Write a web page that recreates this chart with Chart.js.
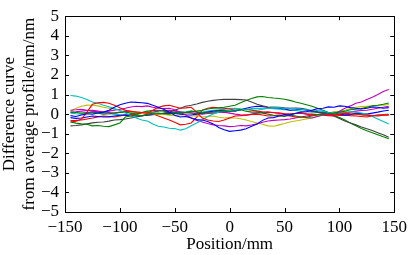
<!DOCTYPE html>
<html>
<head>
<meta charset="utf-8">
<script src="https://cdn.jsdelivr.net/npm/chart.js@4.4.1/dist/chart.umd.min.js"></script>
<style>
  html, body { margin: 0; padding: 0; background: #fff; }
  canvas { display: block; }
</style>
</head>
<body>
<canvas id="chart" width="412" height="255"></canvas>
<script>
// positions along the profile (mm)
const positions = [-145, -140, -135, -130, -125, -120, -115, -110, -105, -100, -95, -90, -85, -80, -75,
                   -70, -65, -60, -55, -50, -45, -40, -35, -30, -25, -20, -15, -10, -5, 0,
                   5, 10, 15, 20, 25, 30, 35, 40, 45, 50, 55, 60, 65, 70, 75,
                   80, 85, 90, 95, 100, 105, 110, 115, 120, 125, 130, 135, 140, 145];

// difference from average profile for each measured profile (nm)
const blueA = [-0.08, -0.12, -0.05, 0.02, 0.0, 0.06, 0.1, 0.2, 0.35, 0.48, 0.55, 0.62, 0.6, 0.58, 0.55,
  0.45, 0.35, 0.25, 0.1, -0.06, -0.15, -0.12, -0.2, -0.28, -0.3, -0.38, -0.5, -0.68, -0.8, -0.88,
  -0.85, -0.82, -0.75, -0.62, -0.5, -0.32, -0.2, -0.18, -0.1, -0.02, -0.05, 0.04, 0.1, 0.12, 0.2,
  0.28, 0.3, 0.37, 0.35, 0.42, 0.4, 0.33, 0.3, 0.26, 0.3, 0.36, 0.35, 0.3, 0.33];
const greenA = [-0.4, -0.46, -0.5, -0.52, -0.6, -0.58, -0.62, -0.64, -0.55, -0.45, -0.15, -0.1, -0.05, -0.08, 0.0,
  0.04, 0.05, 0.02, 0.0, 0.06, 0.1, 0.08, 0.15, 0.1, 0.05, 0.08, 0.1, 0.16, 0.15, 0.12,
  0.2, 0.22, 0.15, 0.1, 0.1, 0.05, 0.0, -0.06, -0.1, -0.12, -0.05, -0.1, -0.15, -0.16, -0.1,
  -0.04, 0.0, 0.03, 0.05, 0.1, 0.15, 0.22, 0.25, 0.28, 0.35, 0.42, 0.45, 0.5, 0.57];
const redA = [-0.4, -0.36, -0.25, 0.1, 0.5, 0.58, 0.6, 0.55, 0.45, 0.32, 0.2, 0.14, 0.1, 0.08, 0.05,
  0.2, 0.35, 0.42, 0.45, 0.38, 0.3, 0.32, 0.35, 0.1, -0.2, -0.3, -0.35, -0.38, -0.3, -0.2,
  -0.1, -0.08, -0.05, -0.02, 0.0, -0.05, -0.1, -0.08, -0.05, -0.06, -0.1, -0.14, -0.15, -0.1, -0.05,
  -0.02, 0.0, -0.04, -0.05, 0.0, 0.05, 0.02, 0.0, -0.02, -0.05, -0.08, -0.1, -0.06, -0.05];
const cyanA = [0.95, 0.92, 0.85, 0.75, 0.62, 0.55, 0.45, 0.38, 0.28, 0.18, 0.05, -0.08, -0.2, -0.3, -0.35,
  -0.5, -0.62, -0.66, -0.72, -0.74, -0.82, -0.75, -0.6, -0.45, -0.3, -0.12, 0.0, 0.1, 0.15, 0.18,
  0.2, 0.22, 0.25, 0.28, 0.3, 0.27, 0.3, 0.34, 0.32, 0.3, 0.3, 0.28, 0.25, 0.22, 0.2,
  0.18, 0.15, 0.08, 0.05, 0.08, 0.1, 0.12, 0.1, 0.06, 0.0, -0.12, -0.25, -0.38, -0.5];
const magentaA = [0.2, 0.22, 0.25, 0.2, 0.15, 0.12, 0.1, 0.15, 0.2, 0.25, 0.3, 0.36, 0.4, 0.38, 0.42,
  0.35, 0.3, 0.28, 0.3, 0.22, 0.1, -0.05, -0.2, -0.32, -0.4, -0.48, -0.55, -0.58, -0.6, -0.64,
  -0.62, -0.58, -0.6, -0.56, -0.5, -0.42, -0.35, -0.32, -0.3, -0.28, -0.25, -0.2, -0.15, -0.18, -0.2,
  -0.12, -0.05, -0.04, 0.0, 0.15, 0.3, 0.42, 0.55, 0.62, 0.75, 0.86, 1.0, 1.15, 1.26];
const yellowA = [0.15, 0.3, 0.4, 0.46, 0.45, 0.42, 0.35, 0.3, 0.25, 0.22, 0.2, 0.15, 0.1, 0.08, 0.05,
  0.02, 0.0, -0.02, -0.05, -0.08, -0.1, -0.12, -0.1, -0.08, -0.15, -0.12, -0.1, -0.16, -0.2, -0.18,
  -0.2, -0.24, -0.3, -0.38, -0.45, -0.52, -0.6, -0.62, -0.55, -0.48, -0.4, -0.35, -0.3, -0.25, -0.2,
  -0.12, -0.05, 0.02, 0.1, 0.14, 0.2, 0.28, 0.35, 0.38, 0.4, 0.42, 0.45, 0.46, 0.49];
const grayA = [-0.6, -0.58, -0.55, -0.5, -0.45, -0.42, -0.4, -0.36, -0.3, -0.28, -0.25, -0.2, -0.15, -0.1, -0.05,
  -0.03, 0.0, 0.05, 0.1, 0.2, 0.3, 0.4, 0.45, 0.52, 0.6, 0.66, 0.7, 0.73, 0.75, 0.76,
  0.75, 0.74, 0.72, 0.62, 0.5, 0.42, 0.35, 0.36, 0.35, 0.32, 0.3, 0.31, 0.3, 0.24, 0.15,
  0.1, 0.05, -0.02, -0.1, -0.22, -0.35, -0.45, -0.55, -0.66, -0.75, -0.84, -0.95, -1.06, -1.18];
const blueB = [-0.18, -0.22, -0.2, -0.15, -0.1, -0.12, -0.15, -0.14, -0.1, -0.06, -0.05, -0.08, -0.1, -0.08, -0.05,
  -0.02, 0.0, 0.02, 0.05, 0.03, 0.0, -0.03, -0.05, 0.0, 0.05, 0.1, 0.15, 0.18, 0.2, 0.16,
  0.15, 0.22, 0.3, 0.36, 0.4, 0.38, 0.35, 0.33, 0.3, 0.26, 0.2, 0.22, 0.25, 0.2, 0.15,
  0.12, 0.1, 0.08, 0.05, 0.0, -0.05, -0.02, 0.05, 0.03, 0.0, 0.05, 0.1, 0.16, 0.2];
const greenB = [0.1, 0.08, 0.05, 0.08, 0.1, 0.05, 0.0, 0.02, 0.05, 0.08, 0.1, 0.05, 0.0, 0.08, 0.15,
  0.18, 0.2, 0.15, 0.1, 0.08, 0.05, 0.07, 0.1, 0.15, 0.2, 0.26, 0.3, 0.32, 0.35, 0.4,
  0.45, 0.58, 0.7, 0.8, 0.88, 0.9, 0.85, 0.82, 0.8, 0.76, 0.7, 0.62, 0.55, 0.48, 0.4,
  0.3, 0.2, 0.08, -0.05, -0.18, -0.3, -0.45, -0.6, -0.74, -0.85, -0.95, -1.05, -1.16, -1.26];
const redB = [-0.33, -0.32, -0.3, -0.25, -0.2, -0.14, -0.1, -0.12, -0.15, -0.1, -0.05, -0.02, 0.0, 0.06, 0.1,
  0.02, -0.1, -0.2, -0.3, -0.42, -0.55, -0.52, -0.45, -0.15, 0.2, 0.3, 0.35, 0.32, 0.3, 0.26,
  0.2, 0.22, 0.25, 0.2, 0.15, 0.12, 0.1, 0.08, 0.05, 0.02, 0.0, 0.03, 0.05, 0.02, 0.0,
  -0.02, -0.05, -0.08, -0.1, -0.07, -0.05, -0.08, -0.1, -0.12, -0.15, -0.1, -0.05, -0.04, -0.03];
const cyanB = [0.05, 0.02, 0.0, 0.05, 0.1, 0.08, 0.05, 0.02, 0.0, -0.03, -0.05, 0.0, 0.05, 0.08, 0.1,
  0.05, 0.0, 0.03, 0.05, 0.08, 0.1, 0.12, 0.15, 0.12, 0.1, 0.15, 0.2, 0.22, 0.25, 0.28,
  0.3, 0.27, 0.25, 0.22, 0.2, 0.25, 0.3, 0.28, 0.25, 0.22, 0.2, 0.18, 0.15, 0.12, 0.1,
  0.08, 0.05, 0.02, 0.0, -0.03, -0.05, -0.02, 0.0, -0.05, -0.1, -0.08, -0.05, -0.02, 0.0];
const magentaB = [0.1, 0.12, 0.15, 0.18, 0.2, 0.15, 0.1, 0.08, 0.05, 0.1, 0.15, 0.12, 0.1, 0.08, 0.05,
  0.1, 0.15, 0.18, 0.2, 0.15, 0.1, 0.07, 0.05, 0.02, 0.0, 0.03, 0.05, 0.08, 0.1, 0.05,
  0.0, -0.03, -0.05, 0.0, 0.05, 0.08, 0.1, 0.07, 0.05, 0.02, 0.0, 0.03, 0.05, 0.0, -0.05,
  -0.03, 0.0, 0.05, 0.1, 0.08, 0.05, 0.1, 0.15, 0.18, 0.2, 0.25, 0.3, 0.35, 0.4];

const series = [blueA, greenA, redA, cyanA, magentaA, yellowA, grayA, blueB, greenB, redB, cyanB, magentaB];
const colors = ['#0000ff', '#008000', '#ff0000', '#00bfbf', '#bf00bf', '#bfbf00', '#404040'];

const xTicks = [-150, -100, -50, 0, 50, 100, 150];
const yTicks = [-5, -4, -3, -2, -1, 0, 1, 2, 3, 4, 5];

const serif = 'Liberation Serif, Times New Roman, serif';
const minus = v => String(v).replace('-', '\u2212');

// box round the plot with inward ticks on all four sides, like matlab
const boxPlugin = {
  id: 'box',
  afterDatasetsDraw(chart) {
    const { ctx, chartArea: a, scales: { x, y } } = chart;
    const len = 4;
    ctx.save();
    ctx.strokeStyle = '#000';
    ctx.lineWidth = 1;
    ctx.strokeRect(Math.round(a.left) + 0.5, Math.round(a.top) + 0.5,
                   Math.round(a.right - a.left), Math.round(a.bottom - a.top));
    ctx.beginPath();
    xTicks.forEach(v => {
      const px = Math.round(x.getPixelForValue(v)) + 0.5;
      ctx.moveTo(px, a.bottom); ctx.lineTo(px, a.bottom - len);
      ctx.moveTo(px, a.top); ctx.lineTo(px, a.top + len);
    });
    yTicks.forEach(v => {
      const py = Math.round(y.getPixelForValue(v)) + 0.5;
      ctx.moveTo(a.left, py); ctx.lineTo(a.left + len, py);
      ctx.moveTo(a.right, py); ctx.lineTo(a.right - len, py);
    });
    ctx.stroke();
    ctx.restore();
  }
};

new Chart(document.getElementById('chart'), {
  type: 'line',
  data: {
    datasets: series.map((s, i) => ({
      data: s.map((v, j) => ({ x: positions[j], y: v })),
      borderColor: colors[i % colors.length],
      borderWidth: 1.1,
      pointRadius: 0,
      tension: 0,
      fill: false
    }))
  },
  options: {
    responsive: false,
    animation: false,
    devicePixelRatio: 1,
    layout: { padding: { top: 8, right: 14, left: 0, bottom: 0 } },
    plugins: { legend: { display: false }, tooltip: { enabled: false } },
    scales: {
      x: {
        type: 'linear',
        min: -150,
        max: 150,
        afterBuildTicks: s => { s.ticks = xTicks.map(v => ({ value: v })); },
        afterFit: s => { s.height = 43; },
        grid: { display: false, drawTicks: false },
        border: { display: false },
        ticks: { color: '#000', padding: 5, autoSkip: false, maxRotation: 0, font: { family: serif, size: 17 }, callback: minus },
        title: {
          display: true,
          text: 'Position/mm',
          color: '#000',
          padding: { top: 0, bottom: 1 },
          font: { family: serif, size: 17, lineHeight: '18px' }
        }
      },
      y: {
        min: -5,
        max: 5,
        afterBuildTicks: s => { s.ticks = yTicks.map(v => ({ value: v })); },
        afterFit: s => { s.width = 65; },
        grid: { display: false, drawTicks: false },
        border: { display: false },
        ticks: { color: '#000', padding: 6, autoSkip: false, font: { family: serif, size: 17 }, callback: minus },
        title: {
          display: true,
          text: ['Difference curve', 'from average profile/nm/nm'],
          color: '#000',
          padding: { top: 0, bottom: 0 },
          font: { family: serif, size: 17, lineHeight: '20px' }
        }
      }
    }
  },
  plugins: [boxPlugin]
});
</script>
</body>
</html>
